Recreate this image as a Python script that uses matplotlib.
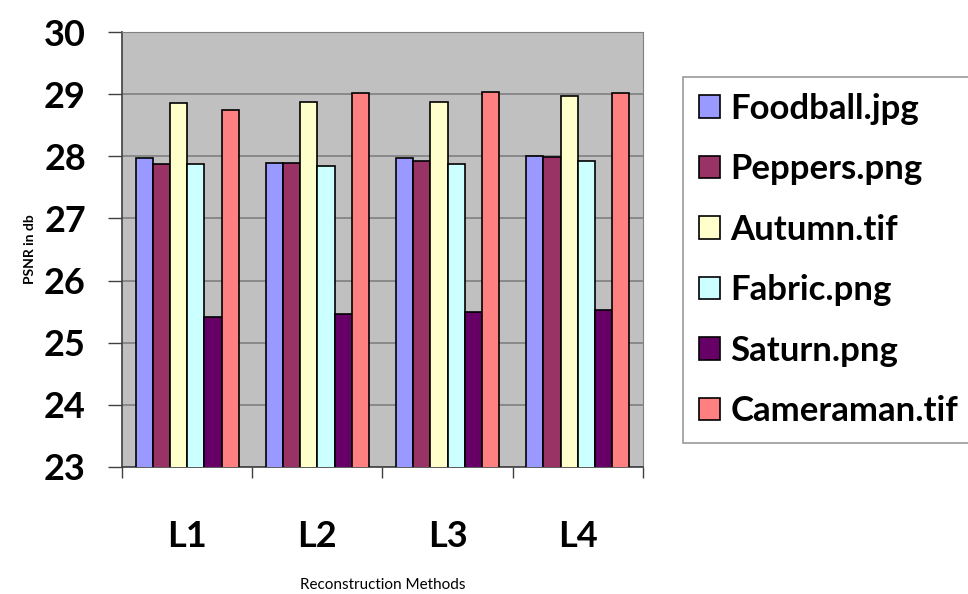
import numpy as np
import matplotlib.pyplot as plt

# ---- data ----
methods = ["L1", "L2", "L3", "L4"]
images = ["Foodball.jpg", "Peppers.png", "Autumn.tif", "Fabric.png", "Saturn.png", "Cameraman.tif"]
foodball = [27.98, 27.89, 27.98, 28.01]
peppers = [27.88, 27.89, 27.93, 27.99]
autumn = [28.85, 28.87, 28.87, 28.97]
fabric = [27.88, 27.84, 27.88, 27.93]
saturn = [25.41, 25.47, 25.50, 25.52]
cameraman = [28.75, 29.02, 29.04, 29.02]
series = [foodball, peppers, autumn, fabric, saturn, cameraman]
colors = ["#9999FF", "#993366", "#FFFFCC", "#CCFFFF", "#660066", "#FF8080"]

plt.rcParams['font.family'] = ['Lato', 'DejaVu Sans']

fig = plt.figure(figsize=(9.68, 5.94), dpi=100)
ax = fig.add_axes([122 / 968, 1 - 467 / 594, 521 / 968, 435 / 594])
ax.set_facecolor("#C0C0C0")

x = np.arange(len(methods))
w = 0.132
for i, (vals, c, name) in enumerate(zip(series, colors, images)):
    ax.bar(x + (i - 2.5) * w, vals, width=w, color=c, edgecolor="black",
           linewidth=1.2, label=name, zorder=3)

ax.set_ylim(23, 30)
ax.set_xlim(-0.5, len(methods) - 0.5)
ax.set_yticks(range(23, 31))
ax.yaxis.grid(True, color="#808080", linewidth=1.2, zorder=0)
ax.tick_params(axis="y", labelsize=26, length=10, width=1, color="#404040", pad=16)
for t in ax.get_yticklabels():
    t.set_fontweight("bold")

# category labels centred, ticks at the boundaries
ax.set_xticks(x)
ax.set_xticklabels(methods, fontsize=26, fontweight="bold")
ax.tick_params(axis="x", length=0, pad=38)
ax.set_xticks(np.arange(-0.5, len(methods), 1), minor=True)
ax.tick_params(axis="x", which="minor", length=8, width=1, color="#404040")

for s in ["top", "right"]:
    ax.spines[s].set_color("#808080")
for s in ["left", "bottom"]:
    ax.spines[s].set_color("#404040")
    ax.spines[s].set_linewidth(1.2)

ax.set_ylabel("PSNR in db", fontsize=10, fontweight="bold", labelpad=6)
ax.set_xlabel("Reconstruction Methods", fontsize=11, labelpad=18)

leg = ax.legend(loc="upper left", bbox_to_anchor=(683 / 968, 1 - 77 / 594),
                bbox_transform=fig.transFigure, prop={"size": 25, "weight": "bold"},
                frameon=True, fancybox=False, edgecolor="#808080",
                handlelength=0.62, handleheight=0.62, handletextpad=0.3,
                labelspacing=0.82, borderpad=0.45, borderaxespad=0)
leg.get_frame().set_linewidth(1.2)

fig.savefig("out.png", dpi=100)
